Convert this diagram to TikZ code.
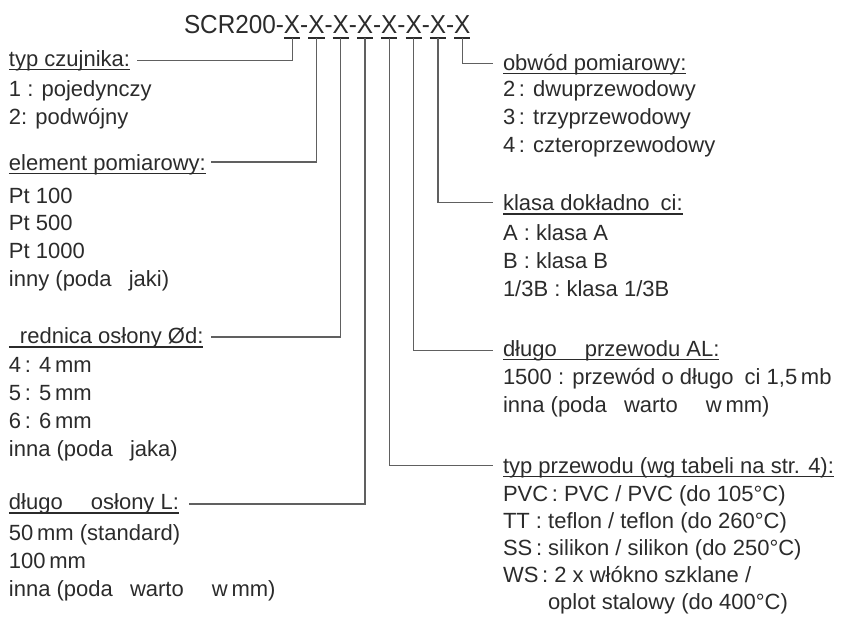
\documentclass[tikz,border=0pt]{standalone}
\usepackage{fontspec}
\setmainfont{Liberation Sans}
\newfontfamily\titlefont{Liberation Sans}[FakeStretch=0.935]
\newcommand\ulx[1]{\sbox0{#1}\rlap{\rule[-4.4pt]{\wd0}{1.8pt}}\usebox0}
\definecolor{txt}{HTML}{2B2B2B}
\definecolor{ln}{HTML}{606060}
\tikzset{
  lbl/.style={anchor=base west, inner sep=0pt, outer sep=0pt, font=\fontsize{22}{26}\selectfont, text=txt},
  ttl/.style={anchor=base west, inner sep=0pt, outer sep=0pt, font=\titlefont\fontsize{26}{30}\selectfont, text=txt},
  conn/.style={draw=ln, line width=1.1pt},
  xul/.style={draw=txt, line width=1.8pt},
}
\begin{document}
\begin{tikzpicture}[x=1pt,y=-1pt]
\useasboundingbox (0,0) rectangle (844,621);
% title
\node[ttl] (t0) at (184,34) {SCR200};
\foreach \i/\p in {1/t0,2/x1,3/x2,4/x3,5/x4,6/x5,7/x6,8/x7}{
  \node[ttl] (d\i) at (\p.base east) {-};
  \node[ttl] (x\i) at (d\i.base east) {X};
}
\foreach \i in {1,...,8}
  \draw[xul] ([yshift=-3.6pt]x\i.south west) -- ([yshift=-3.6pt]x\i.south east);
% left groups
\node[lbl] (h1) at (9,66) {\ulx{typ czujnika:}};
\node[lbl] (h1a) at (9,96.7) {1 : pojedynczy};
\node[lbl] (h1b) at (9,124.3) {2: podwójny};

\node[lbl] (h2) at (9,170) {\ulx{element pomiarowy:}};
\node[lbl] (h2a) at (9,203) {Pt 100};
\node[lbl] (h2b) at (9,230.7) {Pt 500};
\node[lbl] (h2c) at (9,258.4) {Pt 1000};
\node[lbl] (h2d) at (9,286) {inny (poda\phantom{c} jaki)};

\node[lbl] (h3) at (9,343.3) {\ulx{\phantom{s}rednica osłony Ød:}};
\node[lbl] (h3a) at (9,372.5) {4\,: 4\,mm};
\node[lbl] (h3b) at (9,400.5) {5\,: 5\,mm};
\node[lbl] (h3c) at (9,428.5) {6\,: 6\,mm};
\node[lbl] (h3d) at (9,456.5) {inna (poda\phantom{c} jaka)};

\node[lbl] (h4) at (9,509.5) {\ulx{długo\phantom{sc} osłony L:}};
\node[lbl] (h4a) at (9,540) {50\,mm (standard)};
\node[lbl] (h4b) at (9,568) {100\,mm};
\node[lbl] (h4c) at (9,596) {inna (poda\phantom{c} warto\phantom{sc} w\,mm)};
% right groups
\node[lbl] (r1) at (503,70) {\ulx{obwód pomiarowy:}};
\node[lbl] (r1a) at (503,96.7) {2\,: dwuprzewodowy};
\node[lbl] (r1b) at (503,124.3) {3\,: trzyprzewodowy};
\node[lbl] (r1c) at (503,152) {4\,: czteroprzewodowy};

\node[lbl] (r2) at (503,210.7) {\ulx{klasa dokładno\phantom{s}ci:}};
\node[lbl] (r2a) at (503,240) {A : klasa A};
\node[lbl] (r2b) at (503,268) {B : klasa B};
\node[lbl] (r2c) at (503,296) {1/3B : klasa 1/3B};

\node[lbl] (r3) at (503,356) {\ulx{długo\phantom{sc} przewodu AL:}};
\node[lbl] (r3a) at (503,384) {1500 : przewód o długo\phantom{s}ci 1,5\,mb};
\node[lbl] (r3b) at (503,412) {inna (poda\phantom{c} warto\phantom{sc} w\,mm)};

\node[lbl] (r4) at (503,473) {\ulx{typ przewodu (wg tabeli na str. 4):}};
\node[lbl] (r4a) at (503,501) {PVC\,: PVC / PVC (do 105°C)};
\node[lbl] (r4b) at (503,528) {TT : teflon / teflon (do 260°C)};
\node[lbl] (r4c) at (503,555) {SS\,: silikon / silikon (do 250°C)};
\node[lbl] (r4d) at (503,582) {WS\,: 2 x włókno szklane /};
\node[lbl] (r4e) at (548,609) {oplot stalowy (do 400°C)};
% connector end coordinates
\coordinate (e1) at ([xshift=7pt]h1.east);
\coordinate (e2) at ([xshift=5pt]h2.east);
\coordinate (e3) at ([xshift=8pt]h3.east);
\coordinate (e4) at ([xshift=10pt]h4.east);
\coordinate (w1) at ([xshift=-10pt]r1.west);
\coordinate (w2) at ([xshift=-10pt]r2.west);
\coordinate (w3) at ([xshift=-10pt]r3.west);
\coordinate (w4) at ([xshift=-10pt]r4.west);
% connectors
\draw[conn] ([yshift=-3.6pt]x1.south) |- (e1 |- 0,60.7);
\draw[conn] ([yshift=-3.6pt]x2.south) |- (e2 |- 0,162);
\draw[conn] ([yshift=-3.6pt]x3.south) |- (e3 |- 0,337);
\draw[conn] ([yshift=-3.6pt]x4.south) |- (e4 |- 0,504);
\draw[conn] ([yshift=-3.6pt]x5.south) |- (w4 |- 0,465.4);
\draw[conn] ([yshift=-3.6pt]x6.south) |- (w3 |- 0,350.7);
\draw[conn] ([yshift=-3.6pt]x7.south) |- (w2 |- 0,202.6);
\draw[conn] ([yshift=-3.6pt]x8.south) |- (w1 |- 0,63.3);
\end{tikzpicture}
\end{document}
